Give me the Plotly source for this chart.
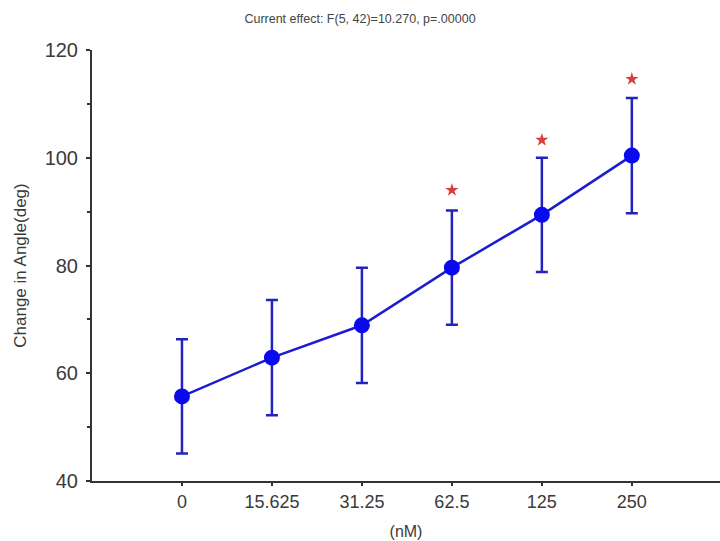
import plotly.graph_objects as go

categories = ["0", "15.625", "31.25", "62.5", "125", "250"]
means = [55.7, 62.9, 68.9, 79.6, 89.4, 100.4]
errors = [10.6, 10.7, 10.7, 10.6, 10.6, 10.7]
star_categories = ["62.5", "125", "250"]
star_y = [94.0, 103.3, 114.6]

blue = "#1c1cd0"
fig = go.Figure()
fig.add_trace(go.Scatter(
    x=categories, y=means, mode="lines+markers",
    line=dict(color=blue, width=2.5),
    marker=dict(color="#0a0af0", size=16),
    error_y=dict(type="data", array=errors, visible=True, color="#2222c0", thickness=2.5, width=6),
    showlegend=False,
))
fig.add_trace(go.Scatter(
    x=star_categories, y=star_y, mode="markers",
    marker=dict(symbol="star", color="#d84040", size=10),
    showlegend=False,
))
fig.update_layout(
    width=720, height=541,
    margin=dict(l=92, r=0, t=50, b=60),
    paper_bgcolor="white", plot_bgcolor="white",
    font=dict(family="Liberation Sans, Arial", color="#3a3a3a"),
    title=dict(text="Current effect: F(5, 42)=10.270, p=.00000", x=0.5, xanchor="center",
               y=0.965, yanchor="middle", font=dict(size=12.5, color="#444")),
)
fig.update_xaxes(
    type="category", categoryorder="array", categoryarray=categories,
    range=[-1, 5.98], showgrid=False, zeroline=False,
    showline=True, linecolor="#333", linewidth=2,
    ticks="outside", ticklen=3, tickcolor="#333", tickwidth=1.5,
    tickfont=dict(size=18, color="#3a3a3a"),
    title=dict(text="(nM)", font=dict(size=16, color="#3a3a3a"), standoff=15),
)
fig.update_yaxes(
    range=[40, 120], tickvals=[40, 60, 80, 100, 120], showgrid=False, zeroline=False,
    showline=True, linecolor="#333", linewidth=2,
    ticks="outside", ticklen=4, tickcolor="#333", tickwidth=1.5, ticklabelstandoff=4,
    minor=dict(tickvals=[50, 70, 90, 110], ticks="outside", ticklen=3, tickcolor="#333", tickwidth=1.5),
    tickfont=dict(size=20, color="#3a3a3a"),
    title=dict(text="Change in Angle(deg)", font=dict(size=17, color="#3a3a3a"), standoff=14),
)
fig.write_html("out.html")
